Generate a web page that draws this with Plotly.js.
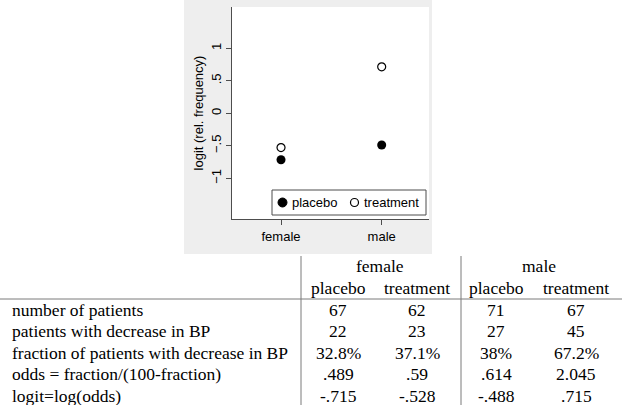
<!DOCTYPE html>
<html>
<head>
<meta charset="utf-8">
<script src="https://cdn.plot.ly/plotly-3.0.1.min.js"></script>
<style>
  html, body { margin: 0; padding: 0; background: #ffffff; }
  #chart { width: 622px; height: 405px; }
</style>
</head>
<body>
<div id="chart"></div>
<script>
// Groups on the x axis and the two arms
const categories = ['female', 'male'];
const placeboLogit = [-0.715, -0.488];
const treatmentLogit = [-0.528, 0.715];

// Y axis ticks
const yTickVals = [-1, -0.5, 0, 0.5, 1];
const yTickText = ['\u22121', '\u2212.5', '0', '.5', '1'];

// Summary table below the plot
const tableGroups = ['female', 'male'];
const tableArms = ['placebo', 'treatment', 'placebo', 'treatment'];
const rowLabels = [
  'number of patients',
  'patients with decrease in BP',
  'fraction of patients with decrease in BP',
  'odds = fraction/(100-fraction)',
  'logit=log(odds)'
];
const nPatients = ['67', '62', '71', '67'];
const nDecrease = ['22', '23', '27', '45'];
const fractions = ['32.8%', '37.1%', '38%', '67.2%'];
const odds = ['.489', '.59', '.614', '2.045'];
const logits = ['-.715', '-.528', '-.488', '.715'];
const tableRows = [nPatients, nDecrease, fractions, odds, logits];

// ---- page geometry (pixels) ----
const W = 622, H = 405;
const plotL = 232, plotR = 429, plotT = 7, plotB = 219;
const px = x => (x - plotL) / (plotR - plotL);
const py = y => (plotB - y) / (plotB - plotT);

const sans = 'Liberation Sans, Arial, sans-serif';
const serif = 'Liberation Serif, Times New Roman, serif';
const axisCol = '#4d4d4d';

const traces = [
  {
    type: 'scatter', mode: 'markers', name: 'placebo',
    x: categories.map((c, i) => i), y: placeboLogit,
    marker: { symbol: 'circle', size: 9, color: '#000000' },
    showlegend: false, hoverinfo: 'skip'
  },
  {
    type: 'scatter', mode: 'markers', name: 'treatment',
    x: categories.map((c, i) => i), y: treatmentLogit,
    marker: { symbol: 'circle', size: 8, color: '#ffffff', line: { color: '#000000', width: 1.2 } },
    showlegend: false, hoverinfo: 'skip'
  }
];

const shapes = [
  // light gray graph region
  { type: 'rect', xref: 'paper', yref: 'paper', layer: 'below',
    x0: px(184), x1: px(432), y0: py(254), y1: py(0),
    fillcolor: '#eeeeee', line: { width: 0 } },
  // white plot region
  { type: 'rect', xref: 'paper', yref: 'paper', layer: 'below',
    x0: 0, x1: 1, y0: 0, y1: 1,
    fillcolor: '#ffffff', line: { width: 0 } },
  // legend frame
  { type: 'rect', xref: 'paper', yref: 'paper', layer: 'above',
    x0: px(272), x1: px(426), y0: py(215), y1: py(190),
    fillcolor: 'rgba(255,255,255,0)', line: { color: axisCol, width: 1 } },
  // legend keys
  { type: 'circle', xref: 'paper', yref: 'paper', layer: 'above',
    x0: px(278), x1: px(287), y0: py(207), y1: py(198),
    fillcolor: '#000000', line: { color: '#000000', width: 1 } },
  { type: 'circle', xref: 'paper', yref: 'paper', layer: 'above',
    x0: px(350.5), x1: px(358.5), y0: py(206.5), y1: py(198.5),
    fillcolor: '#ffffff', line: { color: '#000000', width: 1.2 } },
  // table rules
  { type: 'line', xref: 'paper', yref: 'paper',
    x0: px(0), x1: px(622), y0: py(299), y1: py(299),
    line: { color: '#7a7a7a', width: 1 } },
  { type: 'line', xref: 'paper', yref: 'paper',
    x0: px(301), x1: px(301), y0: py(256), y1: py(405),
    line: { color: '#7a7a7a', width: 1 } },
  { type: 'line', xref: 'paper', yref: 'paper',
    x0: px(461), x1: px(461), y0: py(256), y1: py(405),
    line: { color: '#7a7a7a', width: 1 } }
];

const annotations = [];
const note = (text, x, y, anchor, font) => annotations.push({
  xref: 'paper', yref: 'paper', x: px(x), y: py(y), text: text,
  xanchor: anchor, yanchor: 'middle', showarrow: false, font: font
});
const legendFont = { family: sans, size: 13, color: '#000000' };
note('placebo', 290, 202.5, 'left', legendFont);
note('treatment', 362, 202.5, 'left', legendFont);

const tFont = { family: serif, size: 17.5, color: '#000000' };
const colX = [338, 417, 496, 576];
const groupX = [380, 539];
const rowY = [309.5, 331, 352.5, 374, 395.5];
tableGroups.forEach((g, i) => note(g, groupX[i], 266, 'center', tFont));
tableArms.forEach((a, i) => note(a, colX[i], 287.5, 'center', tFont));
rowLabels.forEach((lab, r) => {
  note(lab, 10, rowY[r], 'left', tFont);
  tableRows[r].forEach((v, c) => note(v, colX[c], rowY[r], 'center', tFont));
});

const layout = {
  width: W, height: H,
  margin: { l: plotL, r: W - plotR, t: plotT, b: H - plotB, pad: 0 },
  paper_bgcolor: '#ffffff',
  plot_bgcolor: '#ffffff',
  showlegend: false,
  xaxis: {
    range: [-0.487, 1.47],
    tickvals: categories.map((c, i) => i), ticktext: categories,
    ticks: 'outside', ticklen: 5, tickcolor: axisCol, tickwidth: 1,
    showline: true, linecolor: axisCol, linewidth: 1,
    showgrid: false, zeroline: false,
    tickfont: { family: sans, size: 13, color: '#000000' },
    fixedrange: true
  },
  yaxis: {
    range: [-1.626, 1.635],
    tickvals: yTickVals, ticktext: yTickText,
    tickangle: -90,
    ticks: 'outside', ticklen: 5, tickcolor: axisCol, tickwidth: 1,
    showline: true, linecolor: axisCol, linewidth: 1,
    showgrid: false, zeroline: false,
    tickfont: { family: sans, size: 13, color: '#000000' },
    title: { text: 'logit (rel. frequency)', font: { family: sans, size: 13, color: '#000000' }, standoff: 2 },
    fixedrange: true
  },
  shapes: shapes,
  annotations: annotations
};

Plotly.newPlot('chart', traces, layout, { staticPlot: true, displayModeBar: false });
</script>
</body>
</html>
